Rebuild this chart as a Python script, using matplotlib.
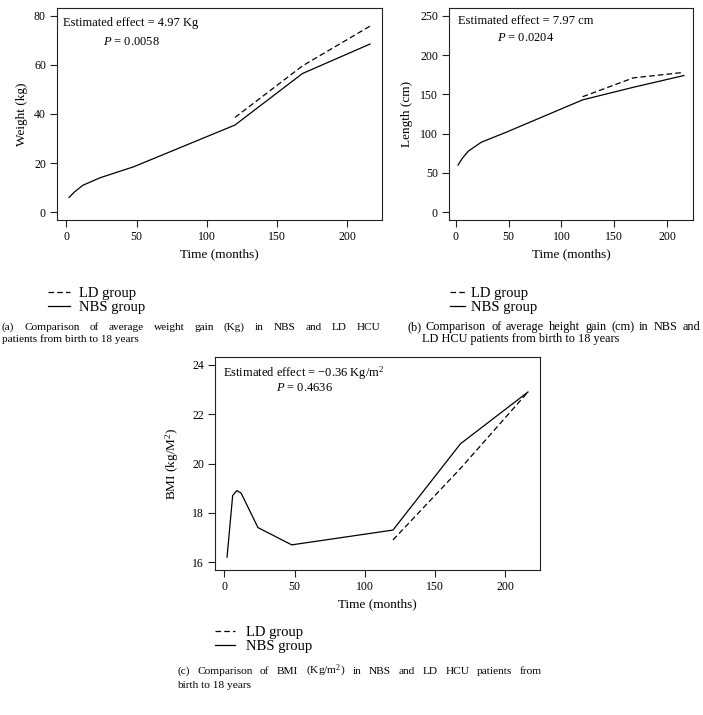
import matplotlib

matplotlib.use("Agg")

import matplotlib.pyplot as plt  # noqa: E402

plt.rcParams["font.family"] = ["Liberation Serif", "DejaVu Serif"]
plt.rcParams["mathtext.fontset"] = "custom"
plt.rcParams["mathtext.rm"] = "Liberation Serif"
plt.rcParams["mathtext.it"] = "Liberation Serif:italic"

# --- data ---
ld_months = [120, 168, 216]

weight_months = [2, 6, 12, 24, 48, 120, 168, 216]
weight_nbs = [6.0, 8.3, 11.0, 14.0, 18.5, 35.5, 56.5, 68.5]
weight_ld = [38.6, 59.6, 75.8]

length_months = [2, 6, 12, 24, 48, 120, 168, 216]
length_nbs = [60, 68.5, 78, 89, 102, 143, 159, 174]
length_ld = [147, 171, 178]

bmi_months = [2, 6, 9, 12, 24, 48, 120, 168, 216]
bmi_nbs = [16.2, 18.7, 18.9, 18.8, 17.4, 16.7, 17.3, 20.8, 22.9]
bmi_ld = [16.9, 19.8, 22.9]

month_ticks = [0, 50, 100, 150, 200]
weight_ticks = [0, 20, 40, 60, 80]
length_ticks = [0, 50, 100, 150, 200, 250]
bmi_ticks = [16, 18, 20, 22, 24]

W, H = 703, 715
fig = plt.figure(figsize=(W / 100, H / 100), dpi=100)


def box(left, top, right, bottom):
    return [left / W, 1 - bottom / H, (right - left) / W, (bottom - top) / H]


def fx(x):
    return x / W


def fy(y):
    return 1 - y / H


def pad_range(lo, hi):
    d = (hi - lo) * 0.04
    return lo - d, hi + d


def draw_panel(rect, months, nbs, ld, ylim, yticks, ylabel, ylabelpad,
               note, note_x, note_y, note_gap, legend_xy, handlelength=1.5,
               handletextpad=0.6):
    ax = fig.add_axes(box(*rect))
    ax.plot(ld_months, ld, color="black", lw=0.9, dashes=(4.5, 2.5), label="LD group")
    ax.plot(months, nbs, color="black", lw=0.9, label="NBS group")
    ax.set_xlim(*pad_range(2, 216))
    ax.set_ylim(*pad_range(*ylim))
    ax.set_xticks(month_ticks)
    ax.set_yticks(yticks)
    ax.tick_params(direction="out", length=5, width=0.8, labelsize=8.5, pad=3,
                   color="#222222")
    for sp in ax.spines.values():
        sp.set_linewidth(0.8)
        sp.set_color("#222222")
    ax.set_xlabel("Time (months)", fontsize=9.5, labelpad=4)
    ax.set_ylabel(ylabel, fontsize=9.5, labelpad=ylabelpad)
    ax.text(note_x, note_y, note[0], transform=ax.transAxes, ha="center",
            va="center", fontsize=9)
    ax.text(note_x, note_y - note_gap, note[1], transform=ax.transAxes,
            ha="center", va="center", fontsize=9)
    handles, labels = ax.get_legend_handles_labels()
    fig.legend(handles, labels, loc="upper left",
               bbox_to_anchor=(fx(legend_xy[0]), fy(legend_xy[1])),
               frameon=False, borderpad=0, borderaxespad=0, fontsize=10.5,
               handlelength=handlelength, handletextpad=handletextpad,
               labelspacing=0.07)
    return ax


draw_panel((57, 8, 382, 220), weight_months, weight_nbs, weight_ld, (0, 80),
           weight_ticks, "Weight (kg)", 4,
           ("Estimated effect = 4.97 Kg", "$P$ = 0.0058"), 0.228, 0.929, 0.089,
           (48, 287))
draw_panel((449, 8, 693, 220), length_months, length_nbs, length_ld, (0, 250),
           length_ticks, "Length (cm)", 5,
           ("Estimated effect = 7.97 cm", "$P$ = 0.0204"), 0.3135, 0.939, 0.081,
           (450, 287), handlelength=1.05, handletextpad=0.4)
draw_panel((215, 357, 540, 570), bmi_months, bmi_nbs, bmi_ld, (16, 24),
           bmi_ticks, "BMI (kg/M$^2$)", 8,
           ("Estimated effect = \u22120.36 Kg/m$^2$", "$P$ = 0.4636"), 0.274, 0.925, 0.071,
           (215, 626), handlelength=1.4, handletextpad=0.7)

renderer = fig.canvas.get_renderer()


def caption_line(text, x0, x1, y, size):
    """Place a justified line of words between x0 and x1 (pixels)."""
    words = text.split()
    items = [fig.text(0, fy(y), w, fontsize=size, va="center") for w in words]
    widths = [t.get_window_extent(renderer).width for t in items]
    gap = (x1 - x0 - sum(widths)) / (len(words) - 1)
    x = x0
    for t, w in zip(items, widths):
        t.set_x(fx(x))
        x += w + gap


def caption_plain(text, x0, y, size):
    fig.text(fx(x0), fy(y), text, fontsize=size, va="center")


caption_line("(a)  Comparison of average weight gain (Kg) in NBS and LD HCU",
             2, 380, 327, 8.1)
caption_plain("patients from birth to 18 years", 2, 339, 8.1)
caption_line("(b)  Comparison of average height gain (cm) in NBS and",
             407, 700, 327, 8.8)
caption_plain("LD HCU patients from birth to 18 years", 422, 339, 8.8)
caption_line("(c)  Comparison of BMI (Kg/m$^2$) in NBS and LD HCU patients from",
             177, 542, 671, 8.2)
caption_plain("birth to 18 years", 177, 685, 8.2)

fig.savefig("out.png", dpi=100)
